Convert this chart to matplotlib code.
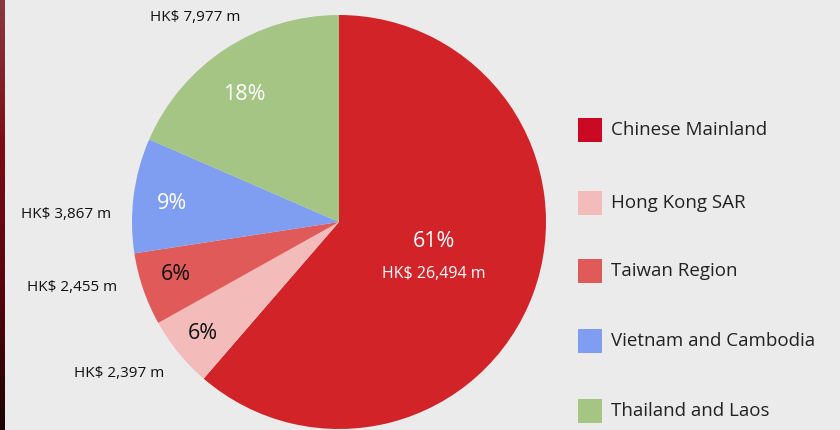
import numpy as np
import matplotlib
matplotlib.use("Agg")
import matplotlib.pyplot as plt
from matplotlib.patches import Rectangle

plt.rcParams["font.family"] = ["Open Sans", "DejaVu Sans"]

regions = ["Chinese Mainland", "Hong Kong SAR", "Taiwan Region",
           "Vietnam and Cambodia", "Thailand and Laos"]
revenue = [26494, 2397, 2455, 3867, 7977]
pct_labels = ["61%", "6%", "6%", "9%", "18%"]
value_labels = ["HK$ 26,494 m", "HK$ 2,397 m", "HK$ 2,455 m",
                "HK$ 3,867 m", "HK$ 7,977 m"]
pie_colors = ["#d22329", "#f4bbbb", "#e05a5a", "#7f9ef2", "#a5c585"]
legend_colors = ["#c90a22", "#f4bbbb", "#e05a5a", "#7f9ef2", "#a5c585"]
pct_colors = ["white", "#111111", "#111111", "white", "white"]

W, H = 840, 430
fig = plt.figure(figsize=(W / 100, H / 100), dpi=100)
fig.patch.set_facecolor("#ebebeb")

# dark red strip on the left edge
strip = fig.add_axes([0, 0, 5 / W, 1])
grad = np.linspace(0, 1, 256).reshape(-1, 1)
cmap = matplotlib.colors.LinearSegmentedColormap.from_list(
    "strip", ["#8b3a3c", "#7c0c16", "#5a050d", "#1a0406"])
strip.imshow(grad, aspect="auto", cmap=cmap)
strip.axis("off")

# pie axes: centre (339, 222) px, radius 207 px
cx, cy, R = 339, 222, 207
ax = fig.add_axes([(cx - R) / W, (H - cy - R) / H, 2 * R / W, 2 * R / H])
ax.set_facecolor("none")
wedges, _ = ax.pie(revenue, colors=pie_colors, startangle=90,
                   counterclock=False, radius=1.0,
                   wedgeprops=dict(linewidth=0))
ax.set_xlim(-1, 1)
ax.set_ylim(-1, 1)
ax.set_aspect("equal")
ax.axis("off")

# label placement (radius, angle nudge in degrees)
pct_r = [0.49, 0.85, 0.83, 0.81, 0.766]
pct_shift = [0, 0, -1, 1, 3.5]
out_r = [None, 1.29, 1.33, 1.32, 1.21]
out_shift = [0, -4.5, -5.2, 5.9, 1.9]
for i, w in enumerate(wedges):
    mid = (w.theta1 + w.theta2) / 2
    ang = np.deg2rad(mid + pct_shift[i])
    x, y = pct_r[i] * np.cos(ang), pct_r[i] * np.sin(ang)
    if i == 0:
        ax.text(x, y + 0.078, pct_labels[i], ha="center", va="center",
                fontsize=15.5, color="white")
        ax.text(x, y - 0.078, value_labels[i], ha="center", va="center",
                fontsize=11.5, color="white")
        continue
    ax.text(x, y, pct_labels[i], ha="center", va="center", fontsize=15.5,
            color=pct_colors[i])
    oang = np.deg2rad(mid + out_shift[i])
    ox, oy = out_r[i] * np.cos(oang), out_r[i] * np.sin(oang)
    ax.text(ox, oy, value_labels[i], ha="center", va="center", fontsize=11,
            color="#111111", clip_on=False)

# legend
rows_y = [130, 203, 271, 341, 411]
for name, col, ry in zip(regions, legend_colors, rows_y):
    fig.add_artist(Rectangle((578 / W, 1 - (ry + 12) / H), 24 / W, 24 / H,
                             transform=fig.transFigure, facecolor=col,
                             edgecolor="none"))
    fig.text(611 / W, 1 - ry / H, name, ha="left", va="center",
             fontsize=13.5, color="#222222")

fig.savefig("out.png", dpi=100, facecolor=fig.get_facecolor())
